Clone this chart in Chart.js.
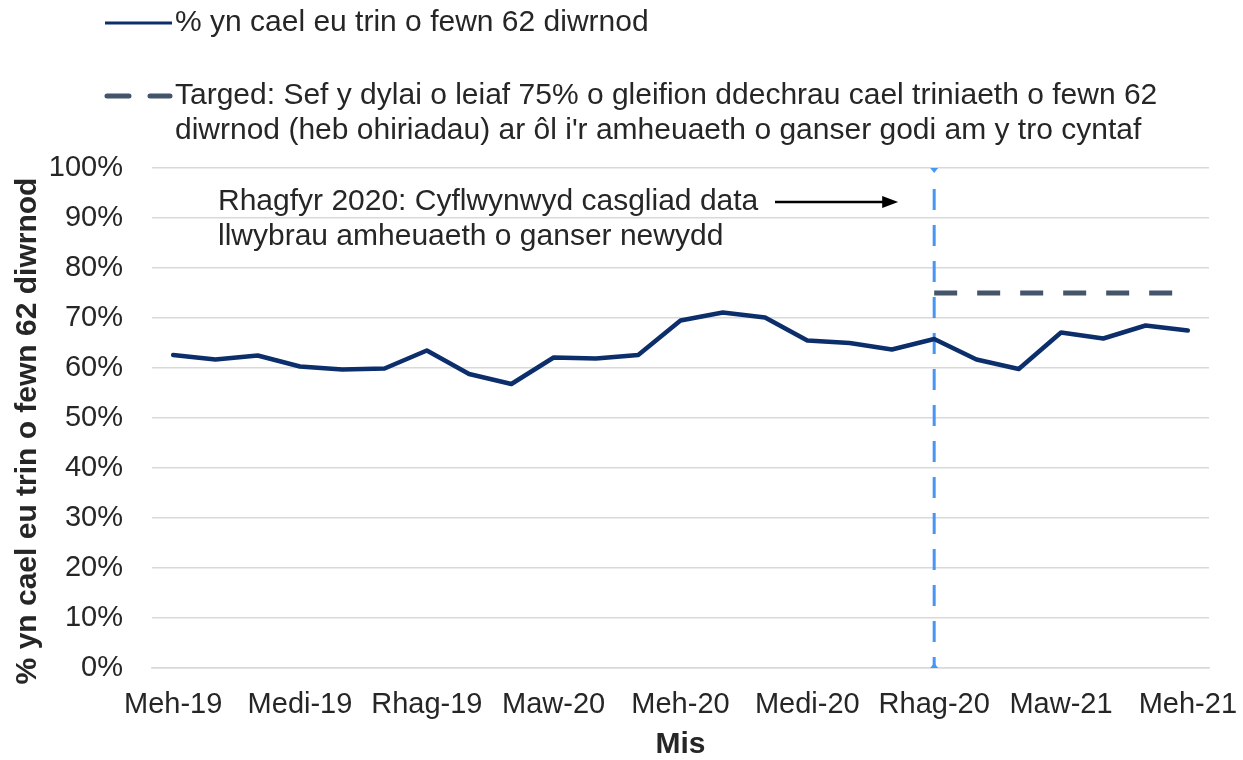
<!DOCTYPE html>
<html><head><meta charset="utf-8">
<script src="https://cdn.jsdelivr.net/npm/chart.js@4.4.0/dist/chart.umd.min.js"></script>
<style>html,body{margin:0;padding:0;background:#fff}#wrap{width:1243px;height:760px;position:relative}</style>
</head><body><div id="wrap"><canvas id="c" width="1243" height="760"></canvas></div>
<script>
const months = ['Meh-19','Gorff-19','Awst-19','Medi-19','Hyd-19','Tach-19','Rhag-19','Ion-20','Chwef-20','Maw-20','Ebr-20','Mai-20','Meh-20','Gorff-20','Awst-20','Medi-20','Hyd-20','Tach-20','Rhag-20','Ion-21','Chwef-21','Maw-21','Ebr-21','Mai-21','Meh-21'];
const tickLabels = ['Meh-19','Medi-19','Rhag-19','Maw-20','Meh-20','Medi-20','Rhag-20','Maw-21','Meh-21'];
const treatedPct = [62.6,61.7,62.5,60.3,59.7,59.9,63.5,58.8,56.8,62.1,61.9,62.6,69.5,71.1,70.1,65.5,65.0,63.7,65.8,61.7,59.8,67.1,65.9,68.5,67.5];
const targetPct = [null,null,null,null,null,null,null,null,null,null,null,null,null,null,null,null,null,null,75,75,75,75,75,75,75];
const markerMonth = 'Rhag-20';
const markerRange = [0, 100];
const seriesNames = ['% yn cael eu trin o fewn 62 diwrnod'];
const targetNameLines = ['Targed: Sef y dylai o leiaf 75% o gleifion ddechrau cael triniaeth o fewn 62', "diwrnod (heb ohiriadau) ar ôl i'r amheuaeth o ganser godi am y tro cyntaf"];
const noteLines = ['Rhagfyr 2020: Cyflwynwyd casgliad data', 'llwybrau amheuaeth o ganser newydd'];
const yTitle = '% yn cael eu trin o fewn 62 diwrnod';
const xTitle = 'Mis';

const FONT = '"Liberation Sans", Arial, sans-serif';
const TXT = '#262626';
const NAVY = '#0c2f6c';
const SLATE = '#44546a';
const BLUE = '#4796f4';

const overlay = {
  id: 'overlay',
  beforeDatasetsDraw(chart) {
    const {ctx, scales: {x, y}} = chart;
    const mx = x.getPixelForValue(months.indexOf(markerMonth));
    const yb = y.getPixelForValue(markerRange[0]);
    const yt = y.getPixelForValue(markerRange[1]);
    ctx.save();
    ctx.strokeStyle = BLUE; ctx.lineWidth = 3; ctx.setLineDash([21, 15]);
    ctx.beginPath(); ctx.moveTo(mx, yt + 21); ctx.lineTo(mx, yb); ctx.stroke();
    ctx.setLineDash([]); ctx.fillStyle = BLUE;
    ctx.beginPath(); ctx.moveTo(mx - 4, yt); ctx.lineTo(mx + 4, yt); ctx.lineTo(mx, yt + 5); ctx.closePath(); ctx.fill();
    ctx.beginPath(); ctx.moveTo(mx - 4, yb); ctx.lineTo(mx + 4, yb); ctx.lineTo(mx, yb - 5); ctx.closePath(); ctx.fill();
    ctx.restore();
  },
  afterDraw(chart) {
    const {ctx, scales: {x, y}} = chart;
    ctx.save();
    ctx.fillStyle = TXT; ctx.textBaseline = 'middle'; ctx.textAlign = 'left';
    ctx.font = '30px ' + FONT;
    // legend 1
    ctx.strokeStyle = NAVY; ctx.lineWidth = 3;
    ctx.beginPath(); ctx.moveTo(105, 23); ctx.lineTo(172, 23); ctx.stroke();
    ctx.fillText(seriesNames[0], 175, 23);
    // legend 2
    ctx.strokeStyle = SLATE; ctx.lineWidth = 5; ctx.lineCap = 'round';
    ctx.beginPath(); ctx.moveTo(107, 96); ctx.lineTo(129, 96); ctx.moveTo(150, 96); ctx.lineTo(170, 96); ctx.stroke();
    ctx.lineCap = 'butt';
    ctx.fillText(targetNameLines[0], 175, 96);
    ctx.fillText(targetNameLines[1], 175, 131);
    // note
    ctx.fillText(noteLines[0], 218, 202);
    ctx.fillText(noteLines[1], 218, 237);
    const mx = x.getPixelForValue(months.indexOf(markerMonth));
    const ay = 202;
    ctx.strokeStyle = '#000'; ctx.lineWidth = 2.5;
    ctx.beginPath(); ctx.moveTo(775, ay); ctx.lineTo(mx - 50, ay); ctx.stroke();
    ctx.fillStyle = '#000';
    ctx.beginPath(); ctx.moveTo(mx - 36, ay); ctx.lineTo(mx - 52, ay - 6); ctx.lineTo(mx - 52, ay + 6); ctx.closePath(); ctx.fill();
    // y title
    ctx.fillStyle = TXT;
    ctx.font = 'bold 30px ' + FONT;
    ctx.translate(28, 431); ctx.rotate(-Math.PI / 2);
    ctx.textAlign = 'center';
    ctx.fillText(yTitle, 0, 0);
    ctx.restore();
  }
};

new Chart(document.getElementById('c'), {
  type: 'line',
  data: {
    labels: months,
    datasets: [
      { label: seriesNames[0], data: treatedPct, borderColor: NAVY, borderWidth: 4.5, pointRadius: 0, tension: 0, borderJoinStyle: 'round', borderCapStyle: 'round' },
      { label: 'Targed', data: targetPct, borderColor: SLATE, borderWidth: 5, borderDash: [23, 20], pointRadius: 0, tension: 0 }
    ]
  },
  options: {
    responsive: false,
    animation: false,
    layout: { padding: { left: 0, right: 34, top: 168, bottom: 0 } },
    plugins: { legend: { display: false }, tooltip: { enabled: false } },
    scales: {
      x: {
        offset: true,
        grid: { display: false, drawTicks: false },
        border: { display: true, color: '#d9d9d9', width: 1.5 },
        ticks: {
          autoSkip: false, maxRotation: 0, padding: 20, color: TXT,
          font: { family: FONT, size: 29 },
          callback(v, i) { const l = months[i]; return tickLabels.includes(l) ? l : ''; }
        },
        title: { display: true, text: xTitle, color: TXT, font: { family: FONT, size: 30, weight: 'bold', lineHeight: 1 }, padding: { top: 0, bottom: 0 } },
        afterFit(s) { s.height = 92; s.paddingLeft = 0; s.paddingRight = 0; }
      },
      y: {
        min: 0, max: 100,
        grid: { color: '#d9d9d9', lineWidth: 1.5, drawTicks: false },
        border: { display: false },
        ticks: { stepSize: 10, padding: 29, color: TXT, font: { family: FONT, size: 29 }, callback: v => v + '%' },
        afterFit(s) { s.width = 152; s.paddingTop = 0; s.paddingBottom = 0; }
      }
    }
  },
  plugins: [overlay]
});
</script>
</body></html>
